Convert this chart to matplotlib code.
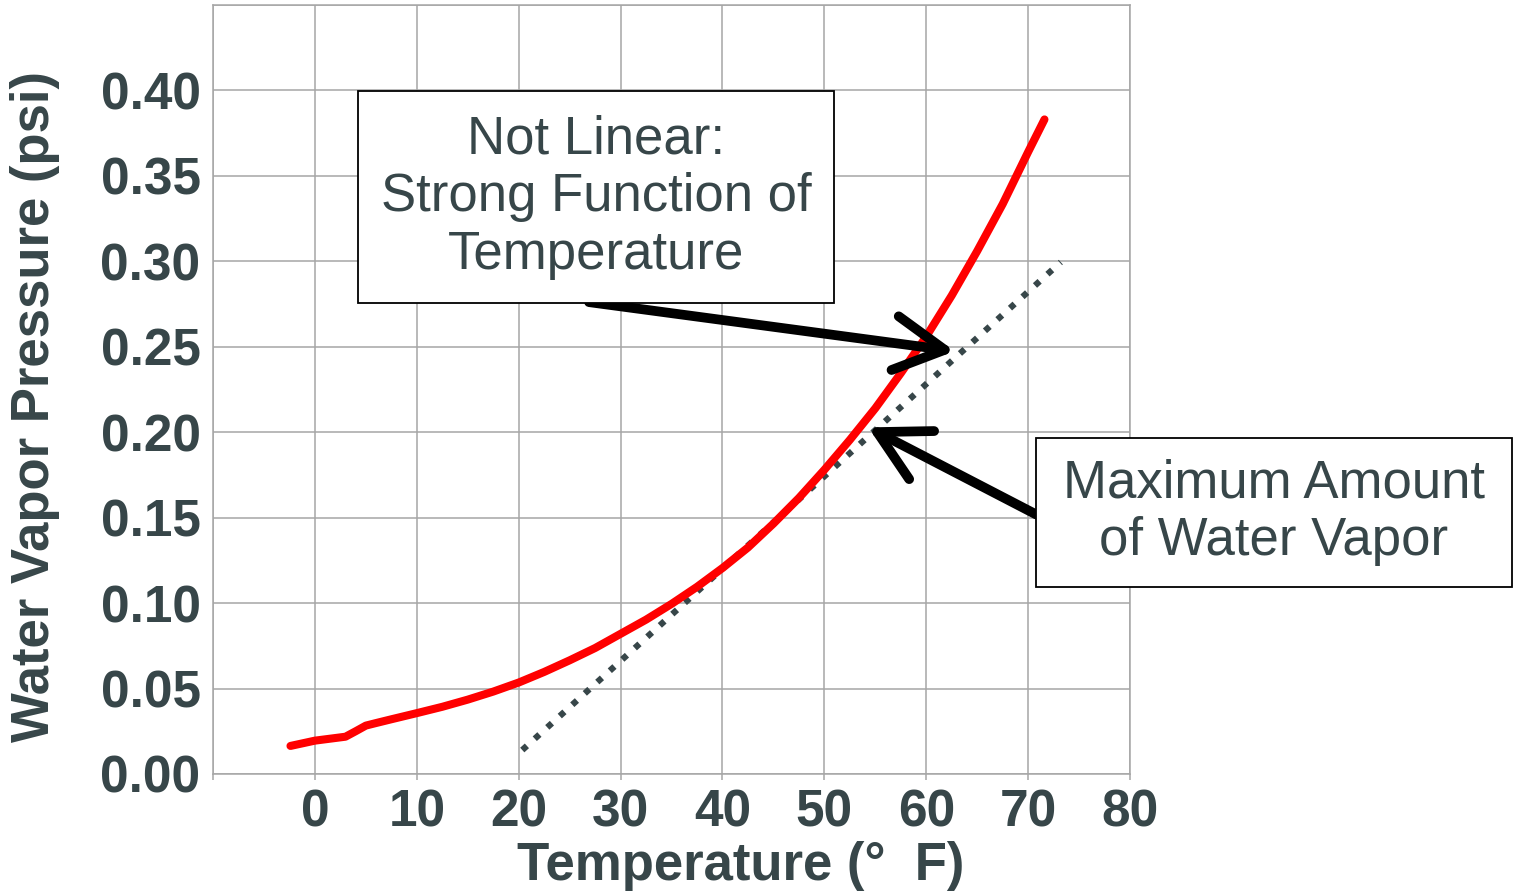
import numpy as np
import matplotlib
matplotlib.use("Agg")
import matplotlib.pyplot as plt
from matplotlib.patches import Rectangle

plt.rcParams['font.family'] = ['Liberation Sans', 'DejaVu Sans']

# saturation curve (deg F, psi)
temp_f = [-2.4, 0, 3, 4, 5, 6, 7.5, 10, 12.5, 15, 17.5, 20, 22.5, 25, 27.5, 30, 32.5,
          35, 37.5, 40, 42.5, 45, 47.5, 50, 52.5, 55, 57.5, 60, 62.5, 65, 67.5, 70, 71.6]
vapor_psi = [0.0164, 0.0195, 0.0218, 0.0250, 0.0283, 0.0298, 0.0320, 0.0356, 0.0393,
             0.0435, 0.0482, 0.0535, 0.0597, 0.0665, 0.0737, 0.0820, 0.0903, 0.0995,
             0.1095, 0.1205, 0.1325, 0.1465, 0.1615, 0.1780, 0.1955, 0.2140, 0.2345,
             0.2560, 0.2800, 0.3060, 0.3335, 0.3640, 0.3830]

# dotted straight line (linear comparison)
linear_t = [20.35, 73.2]
linear_p = [0.014, 0.2995]

x_ticks = list(range(-10, 81, 10))
x_labels = [''] + [str(t) for t in range(0, 81, 10)]
y_ticks = [0.00, 0.05, 0.10, 0.15, 0.20, 0.25, 0.30, 0.35, 0.40, 0.45]
y_labels = ['%.2f' % v for v in y_ticks[:-1]] + ['']

txt = '#374649'
grid = '#a6a6a6'

fig = plt.figure(figsize=(15.13, 8.96), dpi=100)
ax = fig.add_axes([0.1408, 0.1362, 0.6061, 0.8583])

ax.set_xlim(-10, 80)
ax.set_ylim(0, 0.45)
ax.set_xticks(x_ticks)
ax.set_xticklabels(x_labels)
ax.set_yticks(y_ticks)
ax.set_yticklabels(y_labels)
ax.grid(True, color=grid, lw=1.1)
for s in ax.spines.values():
    s.set_color(grid)
    s.set_linewidth(1.1)
ax.tick_params(axis='x', length=4.5, width=1.1, color=grid, pad=6,
               labelsize=37, labelcolor=txt)
ax.tick_params(axis='y', length=0, pad=9, labelsize=37, labelcolor=txt)
for lab in ax.get_xticklabels() + ax.get_yticklabels():
    lab.set_fontweight('bold')

ax.plot(linear_t, linear_p, color=txt, lw=4.5, ls=(0, (1, 1.7)), zorder=3)
ax.plot(temp_f, vapor_psi, color='#ff0000', lw=5.8, solid_capstyle='round',
        solid_joinstyle='round', zorder=4)

# arrows
arrow_style = dict(arrowstyle='->,head_length=2.4,head_width=1.3', color='black',
                   lw=7, mutation_scale=15, shrinkA=0, shrinkB=0,
                   capstyle='round', joinstyle='round')
ax.annotate('', xy=(62.8, 0.2474), xytext=(26.9, 0.2761),
            arrowprops=arrow_style, zorder=5)
ax.annotate('', xy=(54.3, 0.2028), xytext=(70.8, 0.1518),
            arrowprops=arrow_style, zorder=5)

W, H = 1513.0, 896.0

def box(x0, y0, x1, y1, text):
    fig.patches.append(Rectangle((x0 / W, 1 - y1 / H), (x1 - x0) / W, (y1 - y0) / H,
                                 transform=fig.transFigure, facecolor='white',
                                 edgecolor='black', lw=1.3, zorder=10))
    fig.text((x0 + x1) / 2 / W, 1 - (y0 + y1) / 2 / H, text, ha='center', va='center',
             fontsize=38, color=txt, linespacing=1.2, zorder=11)

box(358, 91, 834, 303, 'Not Linear:\nStrong Function of\nTemperature')
box(1036, 438, 1512, 587, 'Maximum Amount\nof Water Vapor')

fig.text(741 / W, 1 - 866 / H, 'Temperature (\u00b0  F)', ha='center', va='center',
         fontsize=38, fontweight='bold', color=txt)
fig.text(35 / W, 1 - 407 / H, 'Water Vapor Pressure (psi)', ha='center', va='center',
         rotation=90, fontsize=38, fontweight='bold', color=txt)

fig.savefig('out.png', dpi=100)
